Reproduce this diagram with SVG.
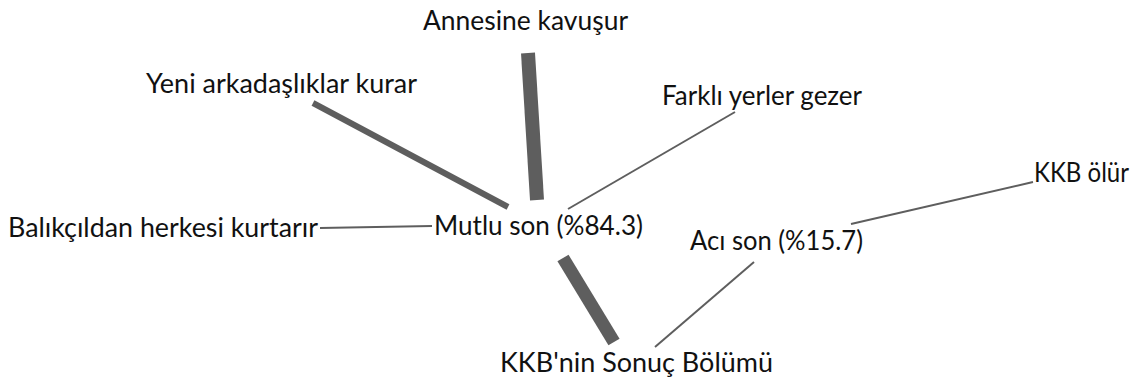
<svg xmlns="http://www.w3.org/2000/svg" width="1137" height="382" viewBox="0 0 1137 382">
  <style>
    .lbl { font-family: Lato, "Open Sans", "Liberation Sans", sans-serif; font-size: 26px; fill: #111; }
    .edge { stroke: #5e5e5e; stroke-linecap: butt; fill: none; }
  </style>
  <rect width="1137" height="382" fill="#fff"/>
  <g id="connectors">
    <line class="edge" x1="563" y1="258" x2="614" y2="342" stroke-width="13"/>
    <line class="edge" x1="528" y1="53" x2="537" y2="200" stroke-width="14"/>
    <line class="edge" x1="313" y1="103" x2="508" y2="207" stroke-width="6"/>
    <line class="edge" x1="735" y1="112" x2="568" y2="209" stroke-width="2"/>
    <line class="edge" x1="320" y1="228" x2="432" y2="226" stroke-width="2"/>
    <line class="edge" x1="754" y1="262" x2="655" y2="347" stroke-width="2"/>
    <line class="edge" x1="851" y1="224" x2="1033" y2="182" stroke-width="2"/>
  </g>
  <g id="node-root"><text class="lbl" x="500" y="372" textLength="273" lengthAdjust="spacingAndGlyphs">KKB'nin Sonuç Bölümü</text></g>
  <g id="node-mutlu"><text class="lbl" x="434" y="235" textLength="209" lengthAdjust="spacingAndGlyphs">Mutlu son (%84.3)</text></g>
  <g id="node-aci"><text class="lbl" x="690" y="250" textLength="173" lengthAdjust="spacingAndGlyphs">Acı son (%15.7)</text></g>
  <g id="node-anne"><text class="lbl" x="423" y="30" textLength="205" lengthAdjust="spacingAndGlyphs">Annesine kavuşur</text></g>
  <g id="node-yeni"><text class="lbl" x="146" y="93" textLength="271" lengthAdjust="spacingAndGlyphs">Yeni arkadaşlıklar kurar</text></g>
  <g id="node-farkli"><text class="lbl" x="662" y="105" textLength="200" lengthAdjust="spacingAndGlyphs">Farklı yerler gezer</text></g>
  <g id="node-balikcil"><text class="lbl" x="8" y="237" textLength="310" lengthAdjust="spacingAndGlyphs">Balıkçıldan herkesi kurtarır</text></g>
  <g id="node-olur"><text class="lbl" x="1034" y="182" textLength="95" lengthAdjust="spacingAndGlyphs">KKB ölür</text></g>
</svg>
